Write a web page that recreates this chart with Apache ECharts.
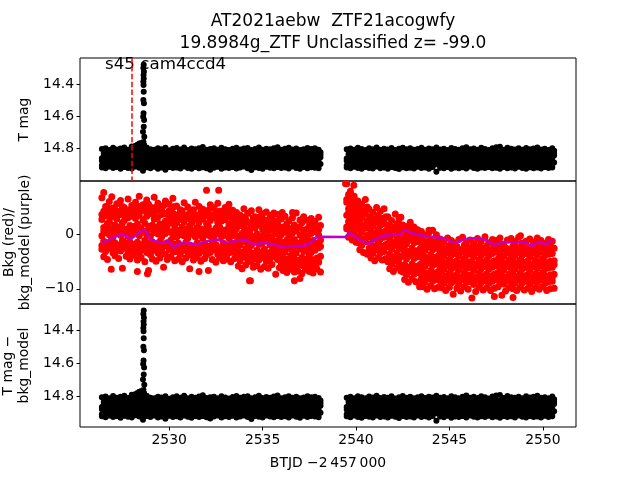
<!DOCTYPE html>
<html><head><meta charset="utf-8">
<script src="https://cdn.jsdelivr.net/npm/echarts@6/dist/echarts.min.js"></script>
<style>html,body{margin:0;padding:0;background:#fff}#c{width:640px;height:480px}</style>
</head><body><div id="c"></div>
<script>
// ---------- DATA ----------
const seg1Start = 2526.4, seg2Start = 2539.5, cadence = 0.2;
const xTicks = [2530, 2535, 2540, 2545, 2550];
const magTicks = [14.4, 14.6, 14.8];
const bkgTicks = [-10, 0];
const flareTime = 2528.0;

// T mag, segment 1 (rows of samples on the cadence grid)
const tmagS1a = [14.806,14.801,14.812,14.798,14.809,14.803,14.796,14.810,14.790,14.786,14.799,14.806,14.797,14.808,14.811,14.802,14.807,14.799,14.814,14.805,14.800,14.809,14.796,14.812,14.803,14.808,14.801,14.794,14.810,14.806,14.802,14.811,14.799,14.807,14.813,14.804,14.798,14.809,14.803,14.800,14.812,14.806,14.797,14.810,14.804,14.808,14.801,14.795,14.811,14.805,14.799,14.809,14.803,14.812,14.807,14.800,14.806,14.802,14.810];
const tmagS1b = [14.834,14.841,14.829,14.838,14.845,14.832,14.839,14.827,14.820,14.815,14.836,14.843,14.830,14.839,14.833,14.846,14.828,14.837,14.842,14.831,14.838,14.829,14.844,14.835,14.840,14.826,14.837,14.843,14.832,14.839,14.834,14.845,14.830,14.838,14.827,14.841,14.836,14.831,14.844,14.833,14.839,14.828,14.842,14.835,14.830,14.846,14.837,14.832,14.840,14.829,14.838,14.843,14.831,14.836,14.844,14.833,14.839,14.827,14.841];
const tmagS1c = [14.864,14.871,14.858,14.869,14.862,14.875,14.860,14.867,14.873,14.855,14.866,14.872,14.859,14.868,14.863,14.876,14.857,14.870,14.865,14.861,14.874,14.858,14.867,14.863,14.871,14.856,14.869,14.864,14.877,14.860,14.866,14.872,14.859,14.868,14.862,14.875,14.857,14.870,14.865,14.861,14.873,14.858,14.867,14.864,14.871,14.856,14.869,14.863,14.876,14.860,14.866,14.872,14.859,14.868,14.862,14.874,14.858,14.870,14.865];
const tmagS1d = [14.892,14.899,14.887,14.897,14.903,14.889,14.895,14.901,14.886,14.898,14.893,14.904,14.888,14.896,14.900,14.885,14.897,14.891,14.902,14.894,14.889,14.899,14.893,14.905,14.887,14.896,14.901,14.890,14.898,14.886,14.895,14.903,14.888,14.897,14.892,14.900,14.885,14.898,14.894,14.889,14.902,14.891,14.896,14.887,14.904,14.893,14.899,14.886,14.897,14.890,14.901,14.888,14.895,14.903,14.892,14.898,14.887,14.896,14.900];
const tmagS1e = [14.921,14.927,14.916,14.925,14.919,14.930,14.918,14.924,14.928,14.915,14.923,14.942,14.920,14.926,14.917,14.929,14.922,14.936,14.918,14.925,14.921,14.928,14.916,14.924,14.930,14.919,14.926,14.920,14.927,14.935,14.923,14.917,14.929,14.921,14.925,14.918,14.928,14.922,14.916,14.926,14.937,14.920,14.924,14.929,14.917,14.923,14.927,14.919,14.925,14.921,14.928,14.916,14.924,14.930,14.918,14.926,14.920,14.923,14.927];
const tmagS1f = [14.850,14.856,14.845,14.853,14.848,14.858,14.844,14.852,14.847,14.840,14.851,14.857,14.846,14.854,14.849,14.859,14.843,14.852,14.856,14.847,14.853,14.845,14.858,14.850,14.855,14.844,14.852,14.857,14.848,14.854,14.846,14.851,14.859,14.845,14.853,14.849,14.856,14.843,14.852,14.858,14.847,14.854,14.850,14.845,14.857,14.851,14.848,14.855,14.844,14.853,14.859,14.846,14.852,14.849,14.856,14.845,14.854,14.850,14.857];
const tmagS1g = [14.908,14.914,14.903,14.911,14.906,14.916,14.902,14.910,14.905,14.913,14.907,14.915,14.901,14.909,14.912,14.904,14.917,14.906,14.910,14.903,14.913,14.908,14.915,14.902,14.911,14.906,14.914,14.909,14.903,14.912,14.905,14.916,14.908,14.901,14.910,14.913,14.906,14.915,14.904,14.909,14.912,14.903,14.911,14.907,14.916,14.905,14.910,14.914,14.902,14.908,14.913,14.906,14.911,14.904,14.915,14.909,14.903,14.912,14.907];
const tmagS1h = [14.820,14.825,14.816,14.823,14.818,14.827,14.815,14.822,14.812,14.808,14.819,14.826,14.817,14.824,14.821,14.828,14.815,14.822,14.826,14.818,14.823,14.816,14.827,14.820,14.825,14.815,14.822,14.827,14.818,14.824,14.817,14.821,14.828,14.816,14.823,14.819,14.826,14.815,14.822,14.827,14.818,14.824,14.820,14.816,14.826,14.821,14.818,14.825,14.815,14.823,14.828,14.817,14.822,14.819,14.825,14.816,14.824,14.820,14.826];
const tmagS1i = [14.879,14.885,14.874,14.882,14.877,14.887,14.873,14.881,14.876,14.884,14.878,14.886,14.872,14.880,14.883,14.875,14.888,14.877,14.881,14.874,14.884,14.879,14.886,14.873,14.882,14.877,14.885,14.880,14.874,14.883,14.876,14.887,14.879,14.872,14.881,14.884,14.877,14.886,14.875,14.880,14.883,14.874,14.882,14.878,14.887,14.876,14.881,14.885,14.873,14.879,14.884,14.877,14.882,14.875,14.886,14.880,14.874,14.883,14.878];
// T mag, segment 2
const tmagS2a = [14.808,14.803,14.811,14.799,14.806,14.812,14.801,14.807,14.797,14.810,14.804,14.809,14.800,14.813,14.805,14.798,14.808,14.802,14.811,14.806,14.799,14.810,14.803,14.807,14.796,14.809,14.804,14.812,14.800,14.806,14.811,14.802,14.795,14.808,14.803,14.810,14.799,14.806,14.813,14.801,14.795,14.792,14.810,14.798,14.805,14.809,14.802,14.811,14.800,14.807,14.803,14.796,14.809,14.805,14.812,14.801];
const tmagS2b = [14.835,14.842,14.830,14.839,14.844,14.831,14.838,14.846,14.833,14.840,14.828,14.837,14.843,14.832,14.839,14.845,14.830,14.836,14.841,14.834,14.847,14.829,14.838,14.843,14.831,14.836,14.842,14.833,14.840,14.827,14.838,14.844,14.832,14.837,14.845,14.830,14.839,14.834,14.841,14.828,14.836,14.843,14.831,14.840,14.835,14.846,14.829,14.838,14.842,14.833,14.839,14.830,14.844,14.836,14.841,14.832];
const tmagS2c = [14.865,14.871,14.859,14.868,14.874,14.861,14.867,14.857,14.872,14.863,14.869,14.876,14.860,14.866,14.873,14.858,14.870,14.864,14.875,14.862,14.867,14.856,14.871,14.865,14.877,14.860,14.868,14.863,14.872,14.858,14.866,14.874,14.861,14.869,14.864,14.876,14.859,14.867,14.872,14.862,14.870,14.857,14.866,14.873,14.861,14.868,14.864,14.875,14.859,14.867,14.871,14.863,14.869,14.858,14.874,14.865];
const tmagS2d = [14.893,14.899,14.888,14.897,14.902,14.889,14.895,14.904,14.887,14.898,14.892,14.900,14.886,14.896,14.903,14.890,14.897,14.893,14.905,14.888,14.895,14.901,14.887,14.898,14.892,14.904,14.889,14.896,14.900,14.885,14.897,14.893,14.902,14.888,14.899,14.894,14.903,14.887,14.896,14.901,14.890,14.898,14.892,14.904,14.886,14.897,14.893,14.900,14.889,14.895,14.902,14.888,14.898,14.893,14.901,14.890];
const tmagS2e = [14.921,14.927,14.917,14.925,14.930,14.919,14.924,14.928,14.916,14.926,14.922,14.929,14.918,14.924,14.931,14.920,14.926,14.923,14.928,14.917,14.925,14.921,14.929,14.919,14.948,14.923,14.927,14.918,14.930,14.922,14.926,14.920,14.928,14.916,14.924,14.929,14.921,14.925,14.918,14.927,14.923,14.930,14.919,14.926,14.921,14.928,14.917,14.924,14.929,14.920,14.926,14.922,14.928,14.918,14.925,14.921];
const tmagS2f = [14.852,14.846,14.857,14.849,14.855,14.844,14.853,14.858,14.847,14.851,14.856,14.845,14.854,14.849,14.859,14.843,14.852,14.857,14.848,14.854,14.846,14.851,14.858,14.845,14.853,14.850,14.856,14.844,14.852,14.857,14.848,14.855,14.850,14.845,14.858,14.851,14.847,14.854,14.844,14.853,14.859,14.846,14.852,14.849,14.856,14.845,14.854,14.850,14.857,14.848,14.853,14.846,14.855,14.850,14.858,14.847];
const tmagS2g = [14.909,14.904,14.914,14.907,14.912,14.902,14.910,14.916,14.905,14.911,14.906,14.913,14.901,14.909,14.915,14.904,14.911,14.907,14.914,14.903,14.910,14.905,14.916,14.908,14.902,14.912,14.906,14.913,14.909,14.904,14.915,14.907,14.911,14.903,14.910,14.914,14.906,14.912,14.901,14.909,14.913,14.905,14.910,14.916,14.904,14.911,14.907,14.914,14.902,14.908,14.912,14.906,14.915,14.909,14.903,14.911];
const tmagS2h = [14.822,14.817,14.826,14.819,14.824,14.815,14.823,14.827,14.818,14.821,14.825,14.816,14.823,14.819,14.828,14.815,14.822,14.826,14.818,14.824,14.816,14.821,14.827,14.815,14.823,14.820,14.825,14.815,14.822,14.826,14.818,14.824,14.820,14.816,14.827,14.821,14.817,14.824,14.815,14.810,14.828,14.816,14.822,14.819,14.825,14.815,14.824,14.820,14.826,14.818,14.823,14.816,14.824,14.820,14.827,14.817];
const tmagS2i = [14.880,14.875,14.885,14.878,14.883,14.873,14.881,14.887,14.876,14.882,14.877,14.884,14.872,14.880,14.886,14.875,14.882,14.878,14.885,14.874,14.881,14.876,14.887,14.879,14.873,14.883,14.877,14.884,14.880,14.875,14.886,14.878,14.882,14.874,14.881,14.885,14.877,14.883,14.872,14.880,14.884,14.876,14.881,14.887,14.875,14.882,14.878,14.885,14.873,14.879,14.883,14.877,14.886,14.880,14.874,14.882];
// flare points
const flareT   = [2528.64,2528.62,2528.65,2528.63,2528.64,2528.62,2528.63,2528.64,2528.62,2528.65,2528.63,2528.61,2528.66,2528.64,2528.60,2528.67,2528.62,2528.66,2528.30,2528.40,2528.50];
const flareMag = [14.280,14.300,14.323,14.344,14.365,14.386,14.406,14.448,14.500,14.520,14.583,14.604,14.625,14.667,14.698,14.729,14.760,14.780,14.780,14.772,14.768];

// Background flux, segment 1
const bkgS1a = [6.8,5.2,6.1,4.9,5.7,6.3,5.0,6.6,5.4,6.0,7.1,5.5,6.4,5.1,6.9,5.8,4.8,6.2,5.6,6.7,5.3,4.6,5.9,5.1,4.4,6.0,5.2,4.7,8.2,5.5,4.9,5.8,4.3,5.0,5.6,4.5,4.1,3.6,4.8,3.9,4.4,3.3,4.6,3.8,4.2,3.5,4.0,3.7,2.9,3.4,2.5,3.1,4.0,2.7,3.3,2.6,3.0,2.4,3.2];
const bkgS1b = [4.3,5.0,3.9,4.7,4.1,5.2,3.8,4.6,4.0,5.3,4.4,4.9,5.6,4.2,5.1,4.6,5.4,4.0,4.8,5.2,3.7,4.4,3.5,4.1,4.6,3.3,4.2,3.8,4.5,3.6,4.0,4.3,3.4,3.9,4.4,3.2,2.6,3.3,2.8,2.2,3.1,2.5,3.4,2.7,2.1,3.0,2.4,2.9,1.4,2.0,1.1,1.8,1.3,2.2,0.9,1.6,1.9,1.2,1.7];
const bkgS1c = [2.8,3.5,2.4,3.3,2.9,3.7,2.6,3.1,3.4,3.0,3.6,2.7,3.4,3.9,2.9,3.2,3.7,2.5,3.3,3.0,2.2,2.8,2.4,3.0,2.1,2.7,2.3,2.9,2.0,2.6,3.1,2.2,2.5,2.8,1.9,2.4,1.1,1.7,1.3,0.9,1.6,1.2,1.8,1.0,1.5,0.8,1.4,1.1,0.0,0.5,-0.2,0.3,0.7,-0.1,0.4,-0.3,0.2,0.6,-0.1];
const bkgS1d = [1.3,2.0,1.1,1.8,1.4,2.2,1.0,1.7,1.5,1.9,1.2,2.1,1.5,1.8,1.1,2.0,1.4,1.7,2.2,1.3,0.8,1.4,1.0,1.6,0.7,1.3,1.1,0.9,1.5,0.6,1.2,1.4,0.8,1.0,1.6,0.9,-0.3,0.2,-0.1,0.4,-0.4,0.1,-0.2,0.3,0.0,-0.5,0.2,-0.1,-1.5,-1.0,-1.4,-0.9,-1.6,-1.2,-0.8,-1.4,-1.1,-1.7,-1.0];
const bkgS1e = [-0.2,0.4,0.0,-0.4,0.3,-0.1,0.5,-0.3,0.2,0.3,-0.2,0.5,0.0,-0.3,0.4,0.1,-0.4,0.2,0.6,-0.1,-0.5,0.0,-0.2,-0.6,0.1,-0.4,-0.1,-0.7,0.0,-0.3,-0.5,0.2,-0.4,-0.1,-0.6,-0.2,-1.4,-1.9,-1.2,-1.7,-2.0,-1.3,-1.8,-1.5,-1.1,-1.9,-1.6,-1.4,-2.7,-3.2,-2.5,-3.0,-3.4,-2.6,-3.1,-2.8,-3.3,-2.9,-2.4];
const bkgS1f = [-1.2,-1.7,-1.0,-1.5,-1.9,-1.1,-1.6,-1.3,-1.8,-1.4,-1.9,-1.1,-1.6,-1.3,-2.0,-1.2,-1.7,-1.5,-1.0,-1.8,-1.6,-2.1,-1.4,-1.9,-2.3,-1.5,-2.0,-1.7,-2.2,-1.3,-1.8,-2.4,-1.6,-2.0,-1.5,-1.9,-2.8,-3.3,-2.6,-3.1,-3.5,-2.9,-3.2,-2.7,-3.4,-3.0,-2.5,-3.2,-4.1,-4.6,-3.9,-4.4,-4.8,-4.2,-4.5,-3.8,-4.7,-4.3,-4.0];
const bkgS1g = [-2.7,-3.1,-2.5,-3.4,-2.8,-3.0,-2.4,-3.3,-2.9,-3.0,-3.5,-2.8,-3.3,-3.7,-2.9,-3.4,-3.1,-3.6,-2.7,-3.2,-3.1,-3.6,-2.9,-3.4,-3.8,-3.2,-3.5,-3.0,-3.7,-3.3,-2.8,-3.6,-3.1,-3.9,-3.4,-3.2,-4.3,-4.8,-4.1,-4.6,-5.0,-4.4,-4.7,-4.2,-4.9,-4.5,-4.0,-4.6,-5.4,-5.9,-5.2,-5.7,-6.1,-5.5,-5.8,-5.3,-6.0,-5.6,-5.1];
const bkgS1h = [-4.1,-4.6,-6.4,-3.9,-4.4,-6.2,-4.0,-4.5,-3.8,-4.7,-4.2,-5.0,-6.6,-4.5,-4.9,-4.3,-6.0,-4.6,-4.1,-4.8,-4.5,-5.0,-4.3,-6.3,-4.7,-4.2,-4.9,-4.4,-6.6,-4.6,-5.1,-4.3,-4.8,-4.5,-5.0,-4.4,-5.8,-6.3,-5.6,-8.5,-6.0,-5.7,-6.4,-5.9,-6.2,-5.5,-7.3,-6.1,-6.6,-7.0,-6.4,-6.9,-6.7,-7.2,-6.5,-6.8,-7.1,-6.3,-6.9];
const bkgS1i = [3.7,4.2,3.5,4.0,3.9,4.4,3.6,4.1,3.8,4.3,3.9,4.5,4.0,4.2,3.8,4.6,4.1,3.9,4.4,4.0,3.1,3.5,3.0,3.4,3.2,3.6,2.9,3.3,3.5,3.0,3.4,3.1,3.6,2.9,3.3,3.2,2.0,2.4,1.9,2.3,2.1,2.5,1.8,2.2,2.4,1.9,2.3,2.0,0.8,1.2,0.6,1.0,0.9,1.3,0.7,1.1,0.8,1.2,0.9];
const bkgS1j = [0.7,1.1,0.5,1.0,0.8,1.2,0.6,0.9,1.0,0.8,1.2,0.6,1.0,0.9,1.3,0.7,1.1,0.8,0.5,1.0,0.3,0.6,0.2,0.5,0.4,0.7,0.1,0.5,0.3,0.6,0.2,0.4,0.7,0.3,0.5,0.2,-0.7,-1.0,-0.6,-0.9,-1.1,-0.8,-0.6,-1.0,-0.7,-0.9,-1.2,-0.8,-2.0,-2.3,-1.9,-2.2,-2.0,-2.4,-1.8,-2.1,-2.3,-1.9,-2.2];
const bkgS1k = [-2.0,-2.4,-2.1,-2.3,-1.9,-2.2,-2.5,-2.0,-2.3,-2.2,-2.5,-2.1,-2.4,-2.6,-2.2,-2.3,-2.5,-2.1,-2.4,-2.3,-2.4,-2.7,-2.3,-2.6,-2.8,-2.5,-2.4,-2.7,-2.6,-2.3,-2.8,-2.5,-2.4,-2.7,-2.6,-2.5,-3.6,-3.9,-3.5,-3.8,-4.0,-3.7,-3.6,-3.9,-3.8,-3.5,-3.9,-3.7,-4.8,-5.1,-4.7,-5.0,-5.2,-4.9,-4.8,-5.1,-5.0,-4.7,-5.0];
// Background flux, segment 2
const bkgS2a = [9.4,7.8,7.1,6.2,5.6,6.5,4.7,4.1,5.0,4.3,4.8,3.3,2.6,3.8,2.9,1.8,1.1,2.3,1.4,0.9,0.6,-0.1,0.4,0.8,0.0,-0.8,-1.3,-0.6,-1.1,-1.6,-0.9,-0.5,-1.4,-1.0,-1.7,-0.7,-1.2,-0.4,-1.5,-0.9,-1.1,-0.6,-1.8,-1.0,-0.7,-1.3,-0.5,-1.6,-1.2,-0.8,-1.4,-0.6,-1.1,-1.7,-0.9,-1.2];
const bkgS2b = [7.4,6.5,6.0,4.9,4.4,5.1,3.4,2.9,3.6,3.0,3.3,1.8,1.3,2.0,1.4,0.3,-0.2,0.5,-0.1,0.2,-0.9,-1.4,-0.8,-1.3,-1.0,-2.1,-2.6,-2.0,-2.5,-2.2,-2.8,-1.9,-2.4,-2.3,-2.7,-2.0,-2.5,-2.1,-2.9,-2.2,-2.6,-1.8,-2.4,-2.7,-2.1,-2.3,-2.8,-2.0,-2.5,-2.2,-2.6,-1.9,-2.4,-2.7,-2.1,-2.5];
const bkgS2c = [6.0,5.2,4.7,3.6,3.1,3.8,2.1,1.6,2.3,1.7,2.0,0.5,0.0,0.7,0.1,-1.2,-1.7,-1.0,-1.5,-1.3,-2.4,-2.9,-2.3,-2.8,-2.5,-3.4,-3.9,-3.3,-3.8,-3.5,-4.0,-3.2,-3.7,-3.6,-4.1,-3.3,-3.8,-3.4,-3.9,-3.5,-3.2,-3.7,-4.0,-3.4,-3.6,-3.9,-3.3,-3.8,-3.5,-4.1,-3.4,-3.7,-3.2,-3.9,-3.6,-3.5];
const bkgS2d = [4.8,4.0,3.5,2.3,1.8,2.5,0.8,0.3,1.0,0.4,0.7,-0.9,-1.4,-0.7,-1.3,-2.6,-3.1,-2.5,-3.0,-2.7,-3.8,-4.3,-3.7,-4.2,-3.9,-4.7,-5.2,-4.6,-5.1,-4.8,-5.3,-4.5,-5.0,-4.9,-5.4,-4.6,-5.1,-4.7,-5.2,-4.8,-4.5,-5.0,-5.3,-4.7,-4.9,-5.2,-4.6,-5.1,-4.8,-5.4,-4.7,-5.0,-4.5,-5.2,-4.9,-4.8];
const bkgS2e = [3.6,2.7,2.2,1.0,0.5,1.2,-0.4,-0.9,-0.2,-0.8,-0.5,-2.2,-2.7,-2.0,-2.6,-4.0,-4.5,-3.9,-4.4,-4.1,-5.3,-5.8,-5.2,-5.7,-5.4,-5.9,-6.4,-5.8,-6.3,-6.0,-6.5,-5.7,-6.2,-6.1,-6.6,-5.8,-6.3,-5.9,-6.4,-6.0,-5.7,-6.2,-6.5,-5.9,-6.1,-6.4,-5.8,-6.3,-6.0,-6.6,-5.9,-6.2,-5.7,-6.4,-6.1,-6.0];
const bkgS2f = [2.4,1.5,1.0,-0.3,-0.8,-0.1,-1.7,-2.2,-1.5,-2.1,-1.8,-3.6,-4.1,-3.4,-4.0,-5.5,-6.0,-5.4,-5.9,-5.6,-6.7,-7.2,-6.6,-7.1,-6.8,-7.2,-7.7,-7.1,-7.6,-7.3,-7.8,-7.0,-7.5,-7.4,-7.9,-7.1,-7.6,-7.2,-7.7,-7.3,-7.0,-7.5,-7.8,-7.2,-7.4,-7.7,-7.1,-7.6,-7.3,-7.9,-7.2,-7.5,-7.0,-7.7,-7.4,-7.3];
const bkgS2g = [1.1,0.3,-0.2,-1.5,-2.0,-1.3,-3.0,-3.5,-2.8,-3.4,-3.1,-5.0,-5.5,-4.8,-5.4,-6.9,-7.4,-6.8,-7.3,-7.0,-8.2,-8.7,-8.1,-8.6,-8.3,-8.5,-9.0,-8.4,-8.9,-8.6,-9.1,-8.3,-8.8,-8.7,-9.2,-8.4,-8.9,-8.5,-9.0,-8.6,-8.3,-8.8,-9.1,-8.5,-8.7,-9.0,-8.4,-8.9,-8.6,-9.2,-8.5,-8.8,-8.3,-9.0,-8.7,-8.6];
const bkgS2h = [-0.5,-1.0,-1.4,-2.8,-3.3,-3.6,-4.3,-4.8,-4.2,-4.7,-4.4,-6.3,-6.8,-6.1,-6.7,-8.3,-8.8,-8.2,-8.7,-9.6,-9.6,-10.1,-9.5,-10.0,-9.7,-9.8,-10.3,-9.7,-11.0,-9.9,-10.4,-9.6,-10.1,-11.7,-10.5,-9.7,-10.2,-9.8,-10.3,-9.9,-9.6,-11.2,-10.4,-9.8,-10.0,-10.3,-9.7,-10.2,-9.9,-10.5,-9.8,-10.1,-9.6,-10.3,-10.0,-9.9];
const bkgS2i = [6.5,5.8,5.4,4.2,3.8,4.3,2.7,2.3,2.8,2.4,2.6,1.1,0.7,1.2,0.8,-0.5,-0.9,-0.4,-0.8,-0.6,-1.7,-2.1,-1.6,-2.0,-1.9,-2.8,-3.2,-2.9,-3.1,-2.7,-3.3,-2.9,-3.0,-3.2,-2.8,-3.1,-2.9,-3.3,-2.7,-3.0,-3.2,-2.8,-3.1,-2.9,-3.3,-3.0,-2.7,-3.2,-2.9,-3.1,-2.8,-3.3,-3.0,-2.9,-3.2,-2.8];
const bkgS2j = [4.0,3.3,2.9,1.6,1.3,1.7,0.1,-0.2,0.2,-0.1,0.0,-1.6,-1.9,-1.5,-1.8,-3.4,-3.7,-3.3,-3.6,-3.5,-4.6,-4.9,-4.5,-4.8,-4.7,-5.4,-5.7,-5.3,-5.6,-5.5,-5.8,-5.4,-5.6,-5.3,-5.7,-5.5,-5.4,-5.8,-5.5,-5.6,-5.3,-5.7,-5.4,-5.6,-5.5,-5.8,-5.3,-5.6,-5.4,-5.7,-5.5,-5.3,-5.6,-5.8,-5.4,-5.5];
const bkgS2k = [1.4,0.8,0.5,-1.0,-1.3,-0.9,-2.5,-2.8,-2.4,-2.7,-2.6,-4.3,-4.6,-4.2,-4.5,-6.2,-6.5,-6.1,-6.4,-6.3,-7.5,-7.8,-7.4,-7.7,-7.6,-7.9,-8.2,-7.8,-8.1,-8.0,-8.3,-7.9,-8.1,-7.8,-8.2,-8.0,-7.9,-8.3,-8.0,-8.1,-7.8,-8.2,-7.9,-8.1,-8.0,-8.3,-7.8,-8.1,-7.9,-8.2,-8.0,-7.8,-8.1,-8.3,-7.9,-8.0];
// isolated background points
const bkgOutT = [2526.5,2526.93,2532.65,2528.3,2528.84,2531.6,2534.35,2536.7,2537.0,2536.05,2536.6,2539.44,2539.88,2539.7,2542.4,2542.8,2543.9,2548.8,2547.4,2548.4,2543.55];
const bkgOutV = [7.8,7.0,8.2,-6.8,-7.2,-6.8,-8.5,-8.5,-8.1,4.1,4.1,9.4,9.1,8.0,3.2,1.6,0.8,-0.2,-11.4,-11.6,-8.5];

// background model (purple)
const modelT = [2526.39,2526.84,2527.37,2527.73,2527.91,2528.18,2528.54,2528.72,2528.98,2529.34,2529.61,2529.96,2530.23,2530.5,2530.95,2531.49,2532.02,2532.56,2533.1,2533.63,2534.08,2534.52,2535.06,2535.59,2536.13,2536.67,2537.2,2537.56,2537.92,2539.44,2539.62,2539.88,2540.24,2540.69,2541.05,2541.49,2542.03,2542.39,2542.57,2542.83,2543.19,2543.64,2544.17,2544.71,2545.25,2545.78,2546.32,2546.86,2547.39,2547.93,2548.47,2549.0,2549.36,2549.8,2550.16,2550.52];
const modelV = [-1.5,-0.87,0.07,-0.24,-0.9,-0.24,0.8,0.8,-0.87,-1.3,-1.5,-1.1,-2.4,-1.7,-1.5,-1.8,-1.2,-0.9,-1.5,-1.1,-0.9,-1.8,-1.5,-1.8,-2.3,-2.1,-2.1,-1.5,-0.4,-0.43,0.37,-0.24,-1.05,-1.7,-0.87,-0.24,0.07,-0.05,0.8,0.55,0.07,-0.24,-0.43,-0.67,-1.5,-0.87,-0.67,-0.87,-1.9,-1.3,-1.5,-1.3,-2.1,-1.3,-1.8,-0.87];

// ---------- BUILD ----------
const tmagRows1 = [tmagS1a, tmagS1b, tmagS1c, tmagS1d, tmagS1e, tmagS1f, tmagS1g, tmagS1h, tmagS1i];
const tmagRows2 = [tmagS2a, tmagS2b, tmagS2c, tmagS2d, tmagS2e, tmagS2f, tmagS2g, tmagS2h, tmagS2i];
const bkgRows1 = [bkgS1a, bkgS1b, bkgS1c, bkgS1d, bkgS1e, bkgS1f, bkgS1g, bkgS1h, bkgS1i, bkgS1j, bkgS1k];
const bkgRows2 = [bkgS2a, bkgS2b, bkgS2c, bkgS2d, bkgS2e, bkgS2f, bkgS2g, bkgS2h, bkgS2i, bkgS2j, bkgS2k];
function rowsToPts(rows, start) {
  const out = [];
  rows.forEach((r, k) => r.forEach((v, i) => out.push([start + i * cadence + (k % 2) * cadence / 2, v])));
  return out;
}
const magPts = rowsToPts(tmagRows1, seg1Start).concat(rowsToPts(tmagRows2, seg2Start), flareT.map((t, i) => [t, flareMag[i]]));
// T mag - bkg_model: identical to T mag at the plotted precision
const corrPts = magPts.map(p => [p[0], p[1]]);
const bkgPts = rowsToPts(bkgRows1, seg1Start).concat(rowsToPts(bkgRows2, seg2Start), bkgOutT.map((t, i) => [t, bkgOutV[i]]));
const modelPts = modelT.map((t, i) => [t, modelV[i]]);

const FONT = 'DejaVu Sans';
const chart = echarts.init(document.getElementById('c'), null, {renderer: 'canvas'});
const grids = [
  {left: 80, right: 64, top: 58, height: 123},
  {left: 80, right: 64, top: 181, height: 123},
  {left: 80, right: 64, top: 304, height: 123}
].map(g => Object.assign(g, {show: true, borderColor: '#000', borderWidth: 1, backgroundColor: 'transparent',
  containLabel: false, outerBoundsMode: 'none'}));

function xAx(i, showLabels) {
  return {
    type: 'value', gridIndex: i, min: 2525.23, max: 2551.77,
    splitLine: {show: false}, axisLine: {show: false},
    axisTick: {show: showLabels, customValues: xTicks, length: 3.5, lineStyle: {color: '#000'}},
    axisLabel: {show: showLabels, customValues: xTicks, formatter: v => String(v), margin: 6, color: '#000', fontFamily: FONT, fontSize: 13.9},
    name: showLabels ? 'BTJD \u22122\u2009457\u2009000' : '', nameLocation: 'middle', nameGap: 29,
    nameTextStyle: {color: '#000', fontFamily: FONT, fontSize: 13.9}
  };
}
function yAx(i, opts) {
  return Object.assign({
    type: 'value', gridIndex: i, splitLine: {show: false}, axisLine: {show: false},
    nameLocation: 'middle', nameRotate: 90,
    nameTextStyle: {color: '#000', fontFamily: FONT, fontSize: 13.9, lineHeight: 16}
  }, opts);
}
const minus = v => v < 0 ? '\u2212' + Math.abs(v) : String(v);
const tickStyle = vals => ({show: true, customValues: vals, length: 3.5, lineStyle: {color: '#000'}});
const labStyle = (vals, fmt) => ({customValues: vals, formatter: fmt, margin: 6, color: '#000', fontFamily: FONT, fontSize: 13.9});
const dot = c => ({color: c, opacity: 1, borderWidth: 0, borderColor: c});
const scatterBase = {type: 'scatter', large: true, largeThreshold: 1, progressive: 0, silent: true};

chart.setOption({
  animation: false,
  backgroundColor: '#fff',
  title: {
    text: 'AT2021aebw  ZTF21acogwfy\n19.8984g_ZTF Unclassified z= -99.0',
    left: 328, top: 6, textAlign: 'center',
    textStyle: {fontFamily: FONT, fontSize: 17, fontWeight: 'normal', color: '#000', lineHeight: 22}
  },
  grid: grids,
  xAxis: [xAx(0, false), xAx(1, false), xAx(2, true)],
  yAxis: [
    yAx(0, {inverse: true, min: 14.2375, max: 15.006, name: 'T mag', nameGap: 47,
      axisTick: tickStyle(magTicks), axisLabel: labStyle(magTicks, v => v.toFixed(1))}),
    yAx(1, {min: -12.8, max: 9.9, name: 'Bkg (red)/\nbkg_model (purple)', nameGap: 47,
      axisTick: tickStyle(bkgTicks), axisLabel: labStyle(bkgTicks, minus)}),
    yAx(2, {inverse: true, min: 14.24, max: 14.986, name: 'T mag \u2212\nbkg_model', nameGap: 47,
      axisTick: tickStyle(magTicks), axisLabel: labStyle(magTicks, v => v.toFixed(1))})
  ],
  series: [
    Object.assign({}, scatterBase, {xAxisIndex: 0, yAxisIndex: 0, data: magPts, symbolSize: 6, itemStyle: dot('#000'),
     markLine: {silent: true, symbol: 'none', label: {show: false},
       lineStyle: {color: '#ff0000', type: [5.5, 2.4], width: 1.5}, data: [{xAxis: flareTime}]}}),
    Object.assign({}, scatterBase, {xAxisIndex: 1, yAxisIndex: 1, data: bkgPts, symbolSize: 7, itemStyle: dot('#ff0000')}),
    {type: 'line', xAxisIndex: 1, yAxisIndex: 1, data: modelPts, showSymbol: false, symbol: 'none',
     lineStyle: {color: '#bf00bf', width: 2.5}, silent: true, z: 5},
    Object.assign({}, scatterBase, {xAxisIndex: 2, yAxisIndex: 2, data: corrPts, symbolSize: 6, itemStyle: dot('#000')})
  ]
});
const tp = chart.convertToPixel({gridIndex: 0}, [2526.57, 14.28]);
chart.setOption({graphic: [{type: 'text', x: tp[0], y: tp[1],
  style: {text: 's45 cam4ccd4', fill: '#000', font: '16.7px "DejaVu Sans"', textAlign: 'left', textVerticalAlign: 'middle'}}]});
</script></body></html>
